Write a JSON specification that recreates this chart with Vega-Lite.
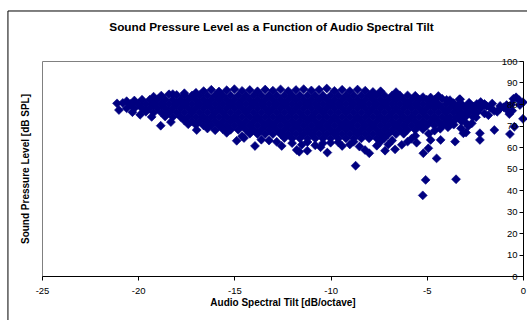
{
  "$schema": "https://vega.github.io/schema/vega-lite/v6.json",
  "width": 481,
  "height": 215,
  "autosize": {"type": "none"},
  "padding": {"left": 42, "top": 61, "right": 4, "bottom": 44},
  "background": "white",
  "config": {"view": {"stroke": "#808080", "strokeWidth": 1}, "font": "Liberation Sans", "axis": {"labelOverlap": false, "labelBound": false, "labelFlush": false}},
  "title": {"text": "Sound Pressure Level as a Function of Audio Spectral Tilt", "fontSize": 11.8, "fontWeight": "bold", "font": "Liberation Sans", "color": "black", "anchor": "middle", "dx": -11, "offset": -23},
  "layer": [
    {
      "data": {"values": [
{"tilt":-17.0,"spl":85.2},{"tilt":-16.6,"spl":86.0},{"tilt":-16.2,"spl":86.6},{"tilt":-15.8,"spl":85.8},{"tilt":-15.4,"spl":86.4},{"tilt":-15.0,"spl":86.9},{"tilt":-14.6,"spl":86.1},{"tilt":-14.2,"spl":86.5},{"tilt":-13.8,"spl":85.9},{"tilt":-13.4,"spl":86.7},{"tilt":-13.0,"spl":86.2},{"tilt":-12.6,"spl":86.8},{"tilt":-12.2,"spl":86.0},{"tilt":-11.8,"spl":86.5},{"tilt":-11.4,"spl":86.9},{"tilt":-11.0,"spl":86.3},{"tilt":-10.6,"spl":86.6},{"tilt":-10.2,"spl":87.2},{"tilt":-9.8,"spl":86.1},{"tilt":-9.4,"spl":86.6},{"tilt":-9.0,"spl":86.0},{"tilt":-8.6,"spl":86.7},{"tilt":-8.2,"spl":86.2},{"tilt":-7.8,"spl":85.6},{"tilt":-7.4,"spl":85.9},{"tilt":-6.6,"spl":85.5},{"tilt":-17.6,"spl":85.0},{"tilt":-18.2,"spl":84.6},
{"tilt":-19.2,"spl":83.4},{"tilt":-18.8,"spl":83.9},{"tilt":-18.4,"spl":84.5},{"tilt":-18.0,"spl":84.2},{"tilt":-17.6,"spl":84},{"tilt":-17.2,"spl":84},{"tilt":-16.8,"spl":84},{"tilt":-16.4,"spl":84},{"tilt":-16.0,"spl":84},{"tilt":-15.6,"spl":84},{"tilt":-15.2,"spl":84},{"tilt":-14.8,"spl":84},{"tilt":-14.4,"spl":84},{"tilt":-14.0,"spl":84},{"tilt":-13.6,"spl":84},{"tilt":-13.2,"spl":84},{"tilt":-12.8,"spl":84},{"tilt":-12.4,"spl":84},{"tilt":-12.0,"spl":84},{"tilt":-11.6,"spl":84},{"tilt":-11.2,"spl":84},{"tilt":-10.8,"spl":84},{"tilt":-10.4,"spl":84},{"tilt":-10.0,"spl":84},{"tilt":-9.6,"spl":84},{"tilt":-9.2,"spl":84},{"tilt":-8.8,"spl":84},{"tilt":-8.4,"spl":84},{"tilt":-8.0,"spl":84},{"tilt":-7.6,"spl":84},{"tilt":-7.2,"spl":84},{"tilt":-6.8,"spl":84},{"tilt":-6.4,"spl":84},{"tilt":-6.0,"spl":84},{"tilt":-5.6,"spl":83.8},{"tilt":-5.2,"spl":83.2},{"tilt":-4.8,"spl":83.0},{"tilt":-4.4,"spl":83.7},
{"tilt":-20.6,"spl":81.3},{"tilt":-20.2,"spl":81.6},{"tilt":-19.8,"spl":82},{"tilt":-19.4,"spl":82},{"tilt":-19.0,"spl":82},{"tilt":-18.6,"spl":82},{"tilt":-18.2,"spl":82},{"tilt":-17.8,"spl":82},{"tilt":-17.4,"spl":82},{"tilt":-17.0,"spl":82},{"tilt":-16.6,"spl":82},{"tilt":-16.2,"spl":82},{"tilt":-15.8,"spl":82},{"tilt":-15.4,"spl":82},{"tilt":-15.0,"spl":82},{"tilt":-14.6,"spl":82},{"tilt":-14.2,"spl":82},{"tilt":-13.8,"spl":82},{"tilt":-13.4,"spl":82},{"tilt":-13.0,"spl":82},{"tilt":-12.6,"spl":82},{"tilt":-12.2,"spl":82},{"tilt":-11.8,"spl":82},{"tilt":-11.4,"spl":82},{"tilt":-11.0,"spl":82},{"tilt":-10.6,"spl":82},{"tilt":-10.2,"spl":82},{"tilt":-9.8,"spl":82},{"tilt":-9.4,"spl":82},{"tilt":-9.0,"spl":82},{"tilt":-8.6,"spl":82},{"tilt":-8.2,"spl":82},{"tilt":-7.8,"spl":82},{"tilt":-7.4,"spl":82},{"tilt":-7.0,"spl":82},{"tilt":-6.6,"spl":82},{"tilt":-6.2,"spl":82},{"tilt":-5.8,"spl":82},{"tilt":-5.4,"spl":82},{"tilt":-5.0,"spl":82},{"tilt":-4.6,"spl":82},{"tilt":-4.2,"spl":82.4},{"tilt":-3.8,"spl":81.8},{"tilt":-3.3,"spl":82.2},
{"tilt":-21.1,"spl":80.3},{"tilt":-20.8,"spl":80.5},{"tilt":-20.4,"spl":80},{"tilt":-20.0,"spl":80},{"tilt":-19.6,"spl":80},{"tilt":-19.2,"spl":80},{"tilt":-18.8,"spl":80},{"tilt":-18.4,"spl":80},{"tilt":-18.0,"spl":80},{"tilt":-17.6,"spl":80},{"tilt":-17.2,"spl":80},{"tilt":-16.8,"spl":80},{"tilt":-16.4,"spl":80},{"tilt":-16.0,"spl":80},{"tilt":-15.6,"spl":80},{"tilt":-15.2,"spl":80},{"tilt":-14.8,"spl":80},{"tilt":-14.4,"spl":80},{"tilt":-14.0,"spl":80},{"tilt":-13.6,"spl":80},{"tilt":-13.2,"spl":80},{"tilt":-12.8,"spl":80},{"tilt":-12.4,"spl":80},{"tilt":-12.0,"spl":80},{"tilt":-11.6,"spl":80},{"tilt":-11.2,"spl":80},{"tilt":-10.8,"spl":80},{"tilt":-10.4,"spl":80},{"tilt":-10.0,"spl":80},{"tilt":-9.6,"spl":80},{"tilt":-9.2,"spl":80},{"tilt":-8.8,"spl":80},{"tilt":-8.4,"spl":80},{"tilt":-8.0,"spl":80},{"tilt":-7.6,"spl":80},{"tilt":-7.2,"spl":80},{"tilt":-6.8,"spl":80},{"tilt":-6.4,"spl":80},{"tilt":-6.0,"spl":80},{"tilt":-5.6,"spl":80},{"tilt":-5.2,"spl":80},{"tilt":-4.8,"spl":80},{"tilt":-4.4,"spl":80},{"tilt":-4.0,"spl":80},{"tilt":-3.6,"spl":80},{"tilt":-3.2,"spl":80},{"tilt":-2.8,"spl":80},{"tilt":-2.4,"spl":80},{"tilt":-2.0,"spl":80},
{"tilt":-21.0,"spl":77.2},{"tilt":-20.6,"spl":78},{"tilt":-20.2,"spl":78},{"tilt":-19.8,"spl":78},{"tilt":-19.4,"spl":78},{"tilt":-19.0,"spl":78},{"tilt":-18.6,"spl":78},{"tilt":-18.2,"spl":78},{"tilt":-17.8,"spl":78},{"tilt":-17.4,"spl":78},{"tilt":-17.0,"spl":78},{"tilt":-16.6,"spl":78},{"tilt":-16.2,"spl":78},{"tilt":-15.8,"spl":78},{"tilt":-15.4,"spl":78},{"tilt":-15.0,"spl":78},{"tilt":-14.6,"spl":78},{"tilt":-14.2,"spl":78},{"tilt":-13.8,"spl":78},{"tilt":-13.4,"spl":78},{"tilt":-13.0,"spl":78},{"tilt":-12.6,"spl":78},{"tilt":-12.2,"spl":78},{"tilt":-11.8,"spl":78},{"tilt":-11.4,"spl":78},{"tilt":-11.0,"spl":78},{"tilt":-10.6,"spl":78},{"tilt":-10.2,"spl":78},{"tilt":-9.8,"spl":78},{"tilt":-9.4,"spl":78},{"tilt":-9.0,"spl":78},{"tilt":-8.6,"spl":78},{"tilt":-8.2,"spl":78},{"tilt":-7.8,"spl":78},{"tilt":-7.4,"spl":78},{"tilt":-7.0,"spl":78},{"tilt":-6.6,"spl":78},{"tilt":-6.2,"spl":78},{"tilt":-5.8,"spl":78},{"tilt":-5.4,"spl":78},{"tilt":-5.0,"spl":78},{"tilt":-4.6,"spl":78},{"tilt":-4.2,"spl":78},{"tilt":-3.8,"spl":78},{"tilt":-3.4,"spl":78},{"tilt":-3.0,"spl":78},{"tilt":-2.6,"spl":78},{"tilt":-2.2,"spl":78},
{"tilt":-19.6,"spl":76.4},{"tilt":-19.2,"spl":76},{"tilt":-18.8,"spl":76},{"tilt":-18.4,"spl":76},{"tilt":-18.0,"spl":76},{"tilt":-17.6,"spl":76},{"tilt":-17.2,"spl":76},{"tilt":-16.8,"spl":76},{"tilt":-16.4,"spl":76},{"tilt":-16.0,"spl":76},{"tilt":-15.6,"spl":76},{"tilt":-15.2,"spl":76},{"tilt":-14.8,"spl":76},{"tilt":-14.4,"spl":76},{"tilt":-14.0,"spl":76},{"tilt":-13.6,"spl":76},{"tilt":-13.2,"spl":76},{"tilt":-12.8,"spl":76},{"tilt":-12.4,"spl":76},{"tilt":-12.0,"spl":76},{"tilt":-11.6,"spl":76},{"tilt":-11.2,"spl":76},{"tilt":-10.8,"spl":76},{"tilt":-10.4,"spl":76},{"tilt":-10.0,"spl":76},{"tilt":-9.6,"spl":76},{"tilt":-9.2,"spl":76},{"tilt":-8.8,"spl":76},{"tilt":-8.4,"spl":76},{"tilt":-8.0,"spl":76},{"tilt":-7.6,"spl":76},{"tilt":-7.2,"spl":76},{"tilt":-6.8,"spl":76},{"tilt":-6.4,"spl":76},{"tilt":-6.0,"spl":76},{"tilt":-5.6,"spl":76},{"tilt":-5.2,"spl":76},{"tilt":-4.8,"spl":76},{"tilt":-4.4,"spl":76},{"tilt":-4.0,"spl":76},{"tilt":-3.6,"spl":76},{"tilt":-3.2,"spl":76},{"tilt":-2.8,"spl":76},{"tilt":-2.4,"spl":76},
{"tilt":-18.6,"spl":74.2},{"tilt":-18.2,"spl":74},{"tilt":-17.8,"spl":74},{"tilt":-17.4,"spl":74},{"tilt":-17.0,"spl":74},{"tilt":-16.6,"spl":74},{"tilt":-16.2,"spl":74},{"tilt":-15.8,"spl":74},{"tilt":-15.4,"spl":74},{"tilt":-15.0,"spl":74},{"tilt":-14.6,"spl":74},{"tilt":-14.2,"spl":74},{"tilt":-13.8,"spl":74},{"tilt":-13.4,"spl":74},{"tilt":-13.0,"spl":74},{"tilt":-12.6,"spl":74},{"tilt":-12.2,"spl":74},{"tilt":-11.8,"spl":74},{"tilt":-11.4,"spl":74},{"tilt":-11.0,"spl":74},{"tilt":-10.6,"spl":74},{"tilt":-10.2,"spl":74},{"tilt":-9.8,"spl":74},{"tilt":-9.4,"spl":74},{"tilt":-9.0,"spl":74},{"tilt":-8.6,"spl":74},{"tilt":-8.2,"spl":74},{"tilt":-7.8,"spl":74},{"tilt":-7.4,"spl":74},{"tilt":-7.0,"spl":74},{"tilt":-6.6,"spl":74},{"tilt":-6.2,"spl":74},{"tilt":-5.8,"spl":74},{"tilt":-5.4,"spl":74},{"tilt":-5.0,"spl":74},{"tilt":-4.6,"spl":74},{"tilt":-4.2,"spl":74},{"tilt":-3.8,"spl":74},{"tilt":-3.4,"spl":74},{"tilt":-3.0,"spl":74},{"tilt":-2.6,"spl":74},
{"tilt":-17.6,"spl":72.3},{"tilt":-17.2,"spl":72},{"tilt":-16.8,"spl":72},{"tilt":-16.4,"spl":72},{"tilt":-16.0,"spl":72},{"tilt":-15.6,"spl":72},{"tilt":-15.2,"spl":72},{"tilt":-14.8,"spl":72},{"tilt":-14.4,"spl":72},{"tilt":-14.0,"spl":72},{"tilt":-13.6,"spl":72},{"tilt":-13.2,"spl":72},{"tilt":-12.8,"spl":72},{"tilt":-12.4,"spl":72},{"tilt":-12.0,"spl":72},{"tilt":-11.6,"spl":72},{"tilt":-11.2,"spl":72},{"tilt":-10.8,"spl":72},{"tilt":-10.4,"spl":72},{"tilt":-10.0,"spl":72},{"tilt":-9.6,"spl":72},{"tilt":-9.2,"spl":72},{"tilt":-8.8,"spl":72},{"tilt":-8.4,"spl":72},{"tilt":-8.0,"spl":72},{"tilt":-7.6,"spl":72},{"tilt":-7.2,"spl":72},{"tilt":-6.8,"spl":72},{"tilt":-6.4,"spl":72},{"tilt":-6.0,"spl":72},{"tilt":-5.6,"spl":72},{"tilt":-5.2,"spl":72},{"tilt":-4.8,"spl":72},{"tilt":-4.4,"spl":72},{"tilt":-4.0,"spl":72},{"tilt":-3.6,"spl":72},{"tilt":-3.2,"spl":72},
{"tilt":-17.0,"spl":70.3},{"tilt":-16.6,"spl":70},{"tilt":-16.2,"spl":70},{"tilt":-15.8,"spl":70},{"tilt":-15.4,"spl":70},{"tilt":-15.0,"spl":70},{"tilt":-14.6,"spl":70},{"tilt":-14.2,"spl":70},{"tilt":-13.8,"spl":70},{"tilt":-13.4,"spl":70},{"tilt":-13.0,"spl":70},{"tilt":-12.6,"spl":70},{"tilt":-12.2,"spl":70},{"tilt":-11.8,"spl":70},{"tilt":-11.4,"spl":70},{"tilt":-11.0,"spl":70},{"tilt":-10.6,"spl":70},{"tilt":-10.2,"spl":70},{"tilt":-9.8,"spl":70},{"tilt":-9.4,"spl":70},{"tilt":-9.0,"spl":70},{"tilt":-8.6,"spl":70},{"tilt":-8.2,"spl":70},{"tilt":-7.8,"spl":70},{"tilt":-7.4,"spl":70},{"tilt":-7.0,"spl":70},{"tilt":-6.6,"spl":70},{"tilt":-6.2,"spl":70},{"tilt":-5.8,"spl":70},{"tilt":-5.4,"spl":70},{"tilt":-5.0,"spl":70},{"tilt":-4.6,"spl":70},{"tilt":-4.2,"spl":70},{"tilt":-3.8,"spl":70.3},
{"tilt":-15.6,"spl":68.3},{"tilt":-15.2,"spl":68},{"tilt":-14.8,"spl":68},{"tilt":-14.4,"spl":68},{"tilt":-14.0,"spl":68},{"tilt":-13.6,"spl":68},{"tilt":-13.2,"spl":68},{"tilt":-12.8,"spl":68},{"tilt":-12.4,"spl":68},{"tilt":-12.0,"spl":68},{"tilt":-11.6,"spl":68},{"tilt":-11.2,"spl":68},{"tilt":-10.8,"spl":68},{"tilt":-10.4,"spl":68},{"tilt":-10.0,"spl":68},{"tilt":-9.6,"spl":68},{"tilt":-9.2,"spl":68},{"tilt":-8.8,"spl":68},{"tilt":-8.4,"spl":68},{"tilt":-8.0,"spl":68},{"tilt":-7.6,"spl":68},{"tilt":-7.2,"spl":68},{"tilt":-6.8,"spl":68},{"tilt":-6.4,"spl":68},{"tilt":-6.0,"spl":68},{"tilt":-5.6,"spl":68},{"tilt":-5.2,"spl":68.3},
{"tilt":-14.2,"spl":66.2},{"tilt":-13.8,"spl":66},{"tilt":-13.4,"spl":66},{"tilt":-13.0,"spl":66},{"tilt":-12.6,"spl":66},{"tilt":-12.2,"spl":66},{"tilt":-11.8,"spl":66},{"tilt":-11.4,"spl":66},{"tilt":-11.0,"spl":66},{"tilt":-10.6,"spl":66},{"tilt":-10.2,"spl":66},{"tilt":-9.8,"spl":66},{"tilt":-9.4,"spl":66},{"tilt":-9.0,"spl":66},{"tilt":-8.6,"spl":66},{"tilt":-8.2,"spl":66},{"tilt":-7.8,"spl":66},{"tilt":-7.4,"spl":66},{"tilt":-7.0,"spl":66},{"tilt":-6.6,"spl":66},{"tilt":-6.2,"spl":66.2},
{"tilt":-12.4,"spl":64.2},{"tilt":-12.0,"spl":64},{"tilt":-11.6,"spl":64},{"tilt":-11.2,"spl":64},{"tilt":-10.8,"spl":64},{"tilt":-10.4,"spl":64},{"tilt":-10.0,"spl":64},{"tilt":-9.6,"spl":64},{"tilt":-9.2,"spl":64},{"tilt":-8.8,"spl":64},{"tilt":-8.4,"spl":64},{"tilt":-8.0,"spl":64},{"tilt":-7.6,"spl":64},{"tilt":-7.2,"spl":64.2},
{"tilt":-20.3,"spl":76.2},{"tilt":-19.9,"spl":75.0},{"tilt":-19.3,"spl":74.0},{"tilt":-18.83,"spl":69.9},{"tilt":-18.3,"spl":71.6},{"tilt":-17.4,"spl":70.6},{"tilt":-16.96,"spl":67.9},{"tilt":-16.4,"spl":68.6},{"tilt":-16.0,"spl":67.8},{"tilt":-15.4,"spl":66.6},{"tilt":-14.88,"spl":62.9},{"tilt":-14.6,"spl":65.0},{"tilt":-14.5,"spl":64.2},{"tilt":-13.93,"spl":60.5},{"tilt":-13.6,"spl":63.4},{"tilt":-13.2,"spl":63.0},{"tilt":-12.8,"spl":62.4},{"tilt":-12.54,"spl":60.5},{"tilt":-12.0,"spl":61.8},{"tilt":-11.76,"spl":58.6},{"tilt":-11.63,"spl":57.8},{"tilt":-11.5,"spl":61.0},{"tilt":-11.21,"spl":58.3},{"tilt":-11.2,"spl":62.3},{"tilt":-10.8,"spl":60.8},{"tilt":-10.52,"spl":59.9},{"tilt":-10.4,"spl":61.8},{"tilt":-10.17,"spl":57.4},{"tilt":-10.0,"spl":62.0},{"tilt":-9.6,"spl":62.2},{"tilt":-9.4,"spl":60.5},{"tilt":-9.0,"spl":61.2},{"tilt":-8.8,"spl":62.5},{"tilt":-8.70,"spl":51.3},{"tilt":-8.5,"spl":60.2},{"tilt":-8.21,"spl":58.6},{"tilt":-7.99,"spl":57.1},{"tilt":-7.6,"spl":60.6},{"tilt":-7.4,"spl":62.6},{"tilt":-7.17,"spl":58.3},{"tilt":-7.0,"spl":61.2},{"tilt":-6.8,"spl":63.0},{"tilt":-6.65,"spl":58.9},{"tilt":-6.3,"spl":61.0},{"tilt":-6.0,"spl":62.5},{"tilt":-5.8,"spl":63.8},{"tilt":-5.53,"spl":62.0},{"tilt":-5.6,"spl":65.2},{"tilt":-5.21,"spl":37.5},{"tilt":-5.18,"spl":57.1},{"tilt":-5.06,"spl":44.7},{"tilt":-4.92,"spl":59.4},{"tilt":-4.80,"spl":63.3},{"tilt":-4.9,"spl":66.2},{"tilt":-4.6,"spl":67.6},{"tilt":-4.49,"spl":54.7},{"tilt":-4.28,"spl":63.3},{"tilt":-4.3,"spl":68.5},{"tilt":-3.9,"spl":69.2},{"tilt":-3.53,"spl":62.5},{"tilt":-3.48,"spl":45.0},{"tilt":-3.6,"spl":70.4},{"tilt":-3.22,"spl":68.7},{"tilt":-3.10,"spl":66.4},{"tilt":-2.96,"spl":66.7},{"tilt":-2.84,"spl":69.8},{"tilt":-3.0,"spl":71.5},{"tilt":-2.66,"spl":71.0},{"tilt":-2.44,"spl":73.8},{"tilt":-2.24,"spl":66.4},{"tilt":-2.24,"spl":63.3},{"tilt":-2.0,"spl":75.6},{"tilt":-1.8,"spl":74.8},{"tilt":-1.49,"spl":67.9},{"tilt":-1.5,"spl":76.8},{"tilt":-1.34,"spl":76.4},{"tilt":-1.2,"spl":77.8},{"tilt":-1.0,"spl":78.5},{"tilt":-1.19,"spl":79.1},{"tilt":-1.7,"spl":78.2},{"tilt":-1.6,"spl":80.2},{"tilt":-1.89,"spl":79.1},{"tilt":-0.85,"spl":79.5},{"tilt":-0.8,"spl":77.0},{"tilt":-0.71,"spl":75.3},{"tilt":-0.68,"spl":66.0},{"tilt":-0.6,"spl":79.8},{"tilt":-0.56,"spl":76.9},{"tilt":-0.45,"spl":69.4},{"tilt":-0.36,"spl":83.1},{"tilt":-0.5,"spl":82.4},{"tilt":-0.2,"spl":81.8},{"tilt":-0.16,"spl":79.5},{"tilt":0.0,"spl":80.8},{"tilt":0.0,"spl":73.1},{"tilt":-2.8,"spl":80.6},{"tilt":-2.2,"spl":80.9},{"tilt":-3.6,"spl":80.4},{"tilt":-3.27,"spl":82.2},{"tilt":-3.97,"spl":81.9},{"tilt":-2.59,"spl":78.8},{"tilt":-3.36,"spl":79.5},{"tilt":-3.0,"spl":74.4},{"tilt":-3.88,"spl":72.6},{"tilt":-3.2,"spl":75.5},{"tilt":-3.4,"spl":77.8},{"tilt":-2.5,"spl":76.0}
      ]},
      "mark": {"type": "point", "shape": "diamond", "filled": true, "size": 80, "color": "#000080", "stroke": "#000080", "strokeWidth": 0.6, "opacity": 1},
      "encoding": {
        "x": {"field": "tilt", "type": "quantitative",
          "scale": {"domain": [-25, 0], "nice": false, "zero": false},
          "axis": {"values": [-25, -20, -15, -10, -5, 0], "tickCount": 20, "labelExpr": "'' + datum.value", "tickSize": 4, "tickColor": "black", "domainColor": "black", "labelColor": "black", "labelFontSize": 9.5, "labelPadding": 5, "labelFlush": false, "labelOverlap": false, "grid": false, "title": "Audio Spectral Tilt [dB/octave]", "titleFontSize": 10, "titleFontWeight": "bold", "titleColor": "black", "titlePadding": 3, "zindex": 1}},
        "y": {"field": "spl", "type": "quantitative",
          "scale": {"domain": [0, 100], "nice": false, "zero": false},
          "axis": {"orient": "left", "offset": -481, "values": [0, 10, 20, 30, 40, 50, 60, 70, 80, 90, 100], "tickCount": 20, "labelExpr": "'' + datum.value", "tickSize": 4, "tickColor": "black", "domainColor": "black", "labelColor": "black", "labelFontSize": 9.5, "labelPadding": 2, "labelFlush": false, "labelOverlap": false, "labelBound": false, "grid": false, "title": "Sound Pressure Level [dB SPL]", "titleFontSize": 10, "titleFontWeight": "bold", "titleColor": "black", "titleAngle": -90, "titleX": -498, "titleY": 107.5, "titleAlign": "center", "titleBaseline": "middle", "zindex": 1}}
      }
    },
    {
      "data": {"values": [{}]},
      "mark": {"type": "rule", "color": "black", "strokeWidth": 1, "clip": false},
      "encoding": {
        "x": {"datum": -26.77, "type": "quantitative"},
        "x2": {"datum": 2},
        "y": {"datum": 123.26, "type": "quantitative"}
      }
    },
    {
      "data": {"values": [{}]},
      "mark": {"type": "rule", "color": "black", "strokeWidth": 1, "clip": false},
      "encoding": {
        "x": {"datum": -26.77, "type": "quantitative"},
        "y": {"datum": 123.26, "type": "quantitative"},
        "y2": {"datum": -25}
      }
    }
  ]
}
